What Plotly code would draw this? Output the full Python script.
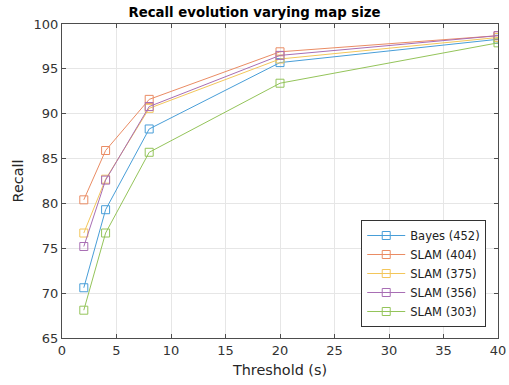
import plotly.graph_objects as go

thresholds = [2, 4, 8, 20, 40]
series_names = ["Bayes (452)", "SLAM (404)", "SLAM (375)", "SLAM (356)", "SLAM (303)"]
bayes_452 = [70.6, 79.3, 88.3, 95.7, 98.3]
slam_404 = [80.4, 85.9, 91.6, 96.9, 98.7]
slam_375 = [76.7, 82.7, 90.6, 96.1, 98.5]
slam_356 = [75.2, 82.6, 90.8, 96.5, 98.7]
slam_303 = [68.1, 76.7, 85.7, 93.4, 97.9]
colors = ["rgb(72,158,216)", "rgb(234,140,100)", "rgb(243,198,90)",
          "rgb(168,110,180)", "rgb(148,196,90)"]

fig = go.Figure()
for name, vals, c in zip(series_names, [bayes_452, slam_404, slam_375, slam_356, slam_303], colors):
    fig.add_trace(go.Scatter(
        x=thresholds, y=vals, name=name, mode="lines+markers",
        line=dict(color=c, width=1),
        marker=dict(symbol="square-open", size=8, color=c, line=dict(width=1)),
    ))

axis_common = dict(
    showgrid=True, gridcolor="#e6e6e6", gridwidth=1,
    showline=True, linecolor="#4d4d4d", linewidth=1, mirror="ticks",
    ticks="inside", ticklen=4, tickcolor="#4d4d4d",
    zeroline=False, automargin=False,
    tickfont=dict(family="DejaVu Sans", size=13, color="#333333"),
)
fig.update_layout(
    width=509, height=385,
    margin=dict(l=62, r=11, t=24, b=47),
    paper_bgcolor="white", plot_bgcolor="white",
    font=dict(family="DejaVu Sans", color="#222222"),
    title=dict(text="<b>Recall evolution varying map size</b>", x=0.5, xanchor="center",
               y=0.968, yanchor="middle", font=dict(size=13.3, color="black")),
    xaxis=dict(range=[0, 40], dtick=5, title=dict(text="Threshold (s)", font=dict(size=14.4, color="#262626"), standoff=8), **axis_common),
    yaxis=dict(range=[65, 100], dtick=5, title=dict(text="Recall", font=dict(size=14.4, color="#262626"), standoff=6), **axis_common),
    legend=dict(x=0.973, y=0.035, xanchor="right", yanchor="bottom",
                bordercolor="#333333", borderwidth=1, bgcolor="white",
                font=dict(size=11.5, family="DejaVu Sans", color="#222222"),
                tracegroupgap=0, itemwidth=38),
)
fig.write_html("out.html")
